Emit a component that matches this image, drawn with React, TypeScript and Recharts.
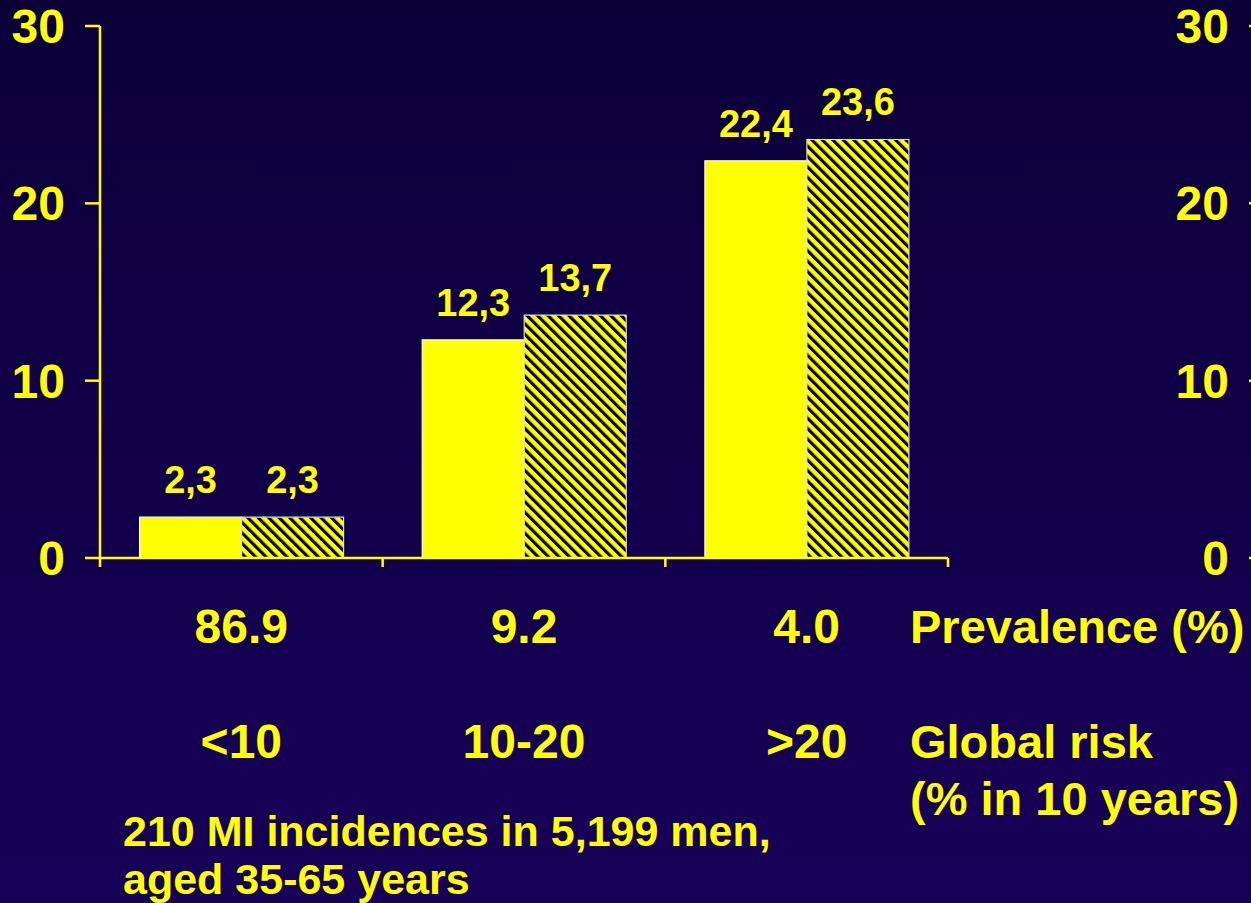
import React from 'react';
import { BarChart, Bar, XAxis, YAxis, LabelList } from 'recharts';

// Global 10-year risk groups and their prevalence in the cohort
const riskGroups = ['<10', '10-20', '>20'];
const prevalence = ['86.9', '9.2', '4.0'];

// MI incidence per risk group (two series: solid and hatched)
const solidValues = [2.3, 12.3, 22.4];
const hatchedValues = [2.3, 13.7, 23.6];

const yTicks = [0, 10, 20, 30];

const data = riskGroups.map((risk, i) => ({
  risk,
  prevalence: prevalence[i],
  solid: solidValues[i],
  hatched: hatchedValues[i],
}));

const YELLOW = '#ffff00';
const FONT = '"Liberation Sans", Arial, Helvetica, sans-serif';
const W = 1251;
const H = 903;
const X_TICK_SIZE = 9;
const X_TICK_MARGIN = 2;

const commaFormat = (v: any) => String(v).replace('.', ',');

// Category tick: boundary tick marks plus two rows of labels (prevalence and risk group)
const CategoryTick = (props: any) => {
  const { x, y, payload, index, visibleTicksCount } = props;
  const half = payload && typeof payload.offset === 'number' ? payload.offset : 0;
  const axisY = y - X_TICK_SIZE - X_TICK_MARGIN;
  const isLast = index === (visibleTicksCount ?? data.length) - 1;
  const row = data.find((d) => d.risk === payload.value);
  const textStyle = { fill: YELLOW, fontSize: 48, fontWeight: 700, fontFamily: FONT } as const;
  return (
    <g>
      <line x1={x - half} x2={x - half} y1={axisY} y2={axisY + X_TICK_SIZE} stroke={YELLOW} strokeWidth={2.5} />
      {isLast && (
        <line x1={x + half} x2={x + half} y1={axisY} y2={axisY + X_TICK_SIZE} stroke={YELLOW} strokeWidth={2.5} />
      )}
      <text x={x} y={y + 74} textAnchor="middle" style={textStyle}>
        {row ? row.prevalence : ''}
      </text>
      <text x={x} y={y + 189} textAnchor="middle" style={textStyle}>
        {payload.value}
      </text>
    </g>
  );
};

const yAxisProps = {
  type: 'number' as const,
  domain: [0, 30],
  ticks: yTicks,
  interval: 0 as const,
  width: 100,
  tickSize: 15,
  tickMargin: 20,
  axisLine: { stroke: YELLOW, strokeWidth: 2.5 },
  tickLine: { stroke: YELLOW, strokeWidth: 2.5 },
  tick: { fill: YELLOW, fontSize: 48, fontWeight: 700, fontFamily: FONT },
};

export default function App() {
  const annotation = { fill: YELLOW, fontWeight: 700, fontFamily: FONT } as const;
  return (
    <div
      style={{
        position: 'fixed',
        left: 0,
        top: 0,
        width: W,
        height: H,
        overflow: 'hidden',
        background: 'linear-gradient(180deg, #0b0038 0%, #12004b 55%, #170058 100%)',
      }}
    >
      <div style={{ position: 'absolute', left: 0, top: 0 }}>
        <BarChart
          width={W}
          height={H}
          data={data}
          margin={{ top: 26, right: 303, bottom: 45, left: 0 }}
          barCategoryGap="14%"
          barGap={0}
        >
          <defs>
            <pattern
              id="hatch"
              patternUnits="userSpaceOnUse"
              width="7.4"
              height="7.4"
              patternTransform="rotate(-45)"
            >
              <rect width="7.4" height="7.4" fill={YELLOW} />
              <rect width="3.1" height="7.4" fill="#000000" />
            </pattern>
          </defs>
          <XAxis
            dataKey="risk"
            height={300}
            interval={0}
            axisLine={{ stroke: YELLOW, strokeWidth: 2.5 }}
            tickLine={false}
            tickSize={X_TICK_SIZE}
            tickMargin={X_TICK_MARGIN}
            tick={<CategoryTick />}
          />
          <YAxis {...yAxisProps} />
          <Bar dataKey="solid" fill={YELLOW} stroke="#ffffff" strokeWidth={1.2} isAnimationActive={false}>
            <LabelList
              dataKey="solid"
              position="top"
              offset={24}
              formatter={commaFormat}
              style={{ fill: YELLOW, fontSize: 38, fontWeight: 700, fontFamily: FONT }}
            />
          </Bar>
          <Bar dataKey="hatched" fill="url(#hatch)" stroke="#d8d8ee" strokeWidth={1.2} isAnimationActive={false}>
            <LabelList
              dataKey="hatched"
              position="top"
              offset={24}
              formatter={commaFormat}
              style={{ fill: YELLOW, fontSize: 38, fontWeight: 700, fontFamily: FONT }}
            />
          </Bar>
        </BarChart>
      </div>

      {/* Second incidence scale on the right edge; its axis line sits just past the page edge */}
      <div style={{ position: 'absolute', left: 1164, top: 0 }}>
        <BarChart width={300} height={H} data={data} margin={{ top: 26, right: 0, bottom: 345, left: 0 }}>
          <XAxis dataKey="risk" hide height={0} />
          <YAxis {...yAxisProps} />
          <Bar dataKey="hatched" fill="transparent" fillOpacity={0} stroke="none" isAnimationActive={false} />
        </BarChart>
      </div>

      <svg
        width={W}
        height={H}
        style={{ position: 'absolute', left: 0, top: 0, pointerEvents: 'none' }}
      >
        <text x={910} y={643} fontSize={47} style={annotation}>
          Prevalence (%)
        </text>
        <text x={910} y={758} fontSize={47} style={annotation}>
          Global risk
        </text>
        <text x={910} y={815} fontSize={47} style={annotation}>
          (% in 10 years)
        </text>
        <text x={123} y={846} fontSize={43} style={annotation}>
          210 MI incidences in 5,199 men,
        </text>
        <text x={123} y={894} fontSize={43} style={annotation}>
          aged 35-65 years
        </text>
      </svg>
    </div>
  );
}
